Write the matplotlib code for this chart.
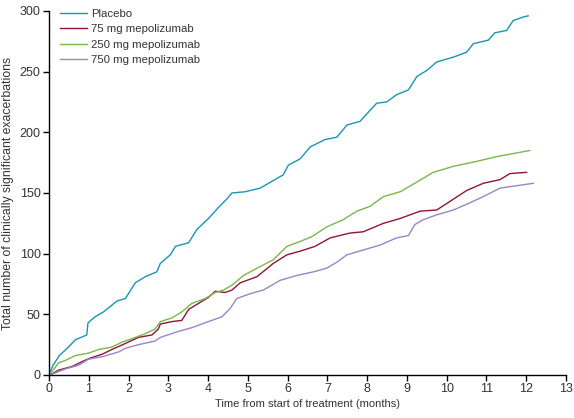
import matplotlib
matplotlib.use('Agg')
import matplotlib.pyplot as plt

# readings (months, cumulative events)
placeboT = [0, 0.1, 0.26, 0.49, 0.66, 0.95, 0.98, 1.16, 1.37, 1.71, 1.92, 2.17, 2.42, 2.71, 2.8,
            3.05, 3.18, 3.51, 3.72, 4.01, 4.26, 4.47, 4.6, 4.93, 5.31, 5.68, 5.89, 6.02, 6.31,
            6.57, 6.94, 7.24, 7.49, 7.82, 8.07, 8.24, 8.49, 8.74, 9.04, 9.25, 9.5, 9.75, 10.17,
            10.5, 10.67, 11.05, 11.21, 11.51, 11.67, 11.92, 12.05]
placeboV = [0, 8, 16, 23, 29, 33, 43, 48, 52, 61, 63, 76, 81, 85, 92,
            99, 106, 109, 120, 129, 138, 145, 150, 151, 154, 161, 165, 173, 178,
            188, 194, 196, 206, 209, 218, 224, 225, 231, 235, 246, 251, 258, 262,
            266, 273, 276, 282, 284, 292, 295, 296]

mg75T = [0, 0.08, 0.24, 0.58, 0.83, 1.04, 1.33, 1.58, 1.92, 2.25, 2.59, 2.75, 2.8, 3.09, 3.34,
         3.51, 3.76, 4.01, 4.18, 4.43, 4.6, 4.81, 5.23, 5.64, 5.98, 6.31, 6.69, 7.07, 7.57,
         7.9, 8.41, 8.83, 9.33, 9.75, 10.08, 10.5, 10.92, 11.34, 11.59, 12.01]
mg75V = [0, 1, 4, 7, 11, 14, 17, 21, 26, 31, 33, 38, 42, 44, 45,
         54, 59, 64, 69, 68, 70, 76, 81, 92, 99, 102, 106, 113, 117,
         118, 125, 129, 135, 136, 143, 152, 158, 161, 166, 167]

mg250T = [0, 0.08, 0.24, 0.41, 0.66, 0.99, 1.25, 1.58, 1.83, 2.09, 2.42, 2.67, 2.8, 3.09, 3.34,
          3.59, 3.93, 4.18, 4.39, 4.6, 4.89, 5.23, 5.64, 5.98, 6.31, 6.61, 6.98, 7.4, 7.74,
          8.07, 8.41, 8.83, 9.25, 9.66, 10.17, 10.75, 11.26, 11.76, 12.09]
mg250V = [0, 3, 10, 12, 16, 18, 21, 23, 27, 30, 34, 38, 44, 47, 52,
          59, 63, 68, 70, 74, 82, 88, 95, 106, 110, 114, 122, 128, 135,
          139, 147, 151, 159, 167, 172, 176, 180, 183, 185]

mg750T = [0, 0.1, 0.41, 0.74, 0.99, 1.33, 1.75, 1.92, 2.25, 2.67, 2.8, 3.26, 3.59, 4.01, 4.35,
          4.56, 4.72, 5.06, 5.39, 5.81, 6.23, 6.65, 6.98, 7.24, 7.49, 7.9, 8.32, 8.74, 9.04,
          9.2, 9.41, 9.75, 10.17, 10.59, 10.92, 11.34, 11.76, 12.18]
mg750V = [0, 1, 5, 8, 13, 15, 19, 22, 25, 28, 31, 36, 39, 44, 48,
          55, 63, 67, 70, 78, 82, 85, 88, 93, 99, 103, 107, 113, 115,
          124, 128, 132, 136, 142, 147, 154, 156, 158]

labels = ['Placebo', '75 mg mepolizumab', '250 mg mepolizumab', '750 mg mepolizumab']
colors = ['#1c93b3', '#8e1538', '#7bb64c', '#9c84c6']

plt.rcParams['font.family'] = ['Liberation Sans', 'DejaVu Sans']

fig = plt.figure(figsize=(5.74, 4.18), dpi=100)
ax = fig.add_axes([0.0854, 0.1029, 0.9006, 0.8708])

series = [(placeboT, placeboV), (mg75T, mg75V), (mg250T, mg250V), (mg750T, mg750V)]
for (t, v), lab, col in zip(series, labels, colors):
    ax.plot(t, v, color=col, lw=1.0, label=lab)

ax.set_xlim(0, 13)
ax.set_ylim(0, 300)
ax.set_xticks(range(0, 14))
ax.set_yticks(range(0, 301, 50))
ax.spines['top'].set_visible(False)
ax.spines['right'].set_visible(False)
for s in ['left', 'bottom']:
    ax.spines[s].set_linewidth(1.0)
ax.tick_params(direction='out', length=4, width=1, labelsize=9, colors='black',
               labelcolor='#333333', pad=2)

ax.set_xlabel('Time from start of treatment (months)', fontsize=8, color='#333333', labelpad=3)
ax.set_ylabel('Total number of clinically significant exacerbations', fontsize=8.8,
              color='#333333', labelpad=4)

ax.legend(loc='upper left', frameon=False, fontsize=8.2, handlelength=2.4,
          handletextpad=0.35, labelspacing=0.48, borderaxespad=0.0,
          bbox_to_anchor=(0.012, 1.018), labelcolor='#333333')

fig.savefig('out.png', dpi=100)
